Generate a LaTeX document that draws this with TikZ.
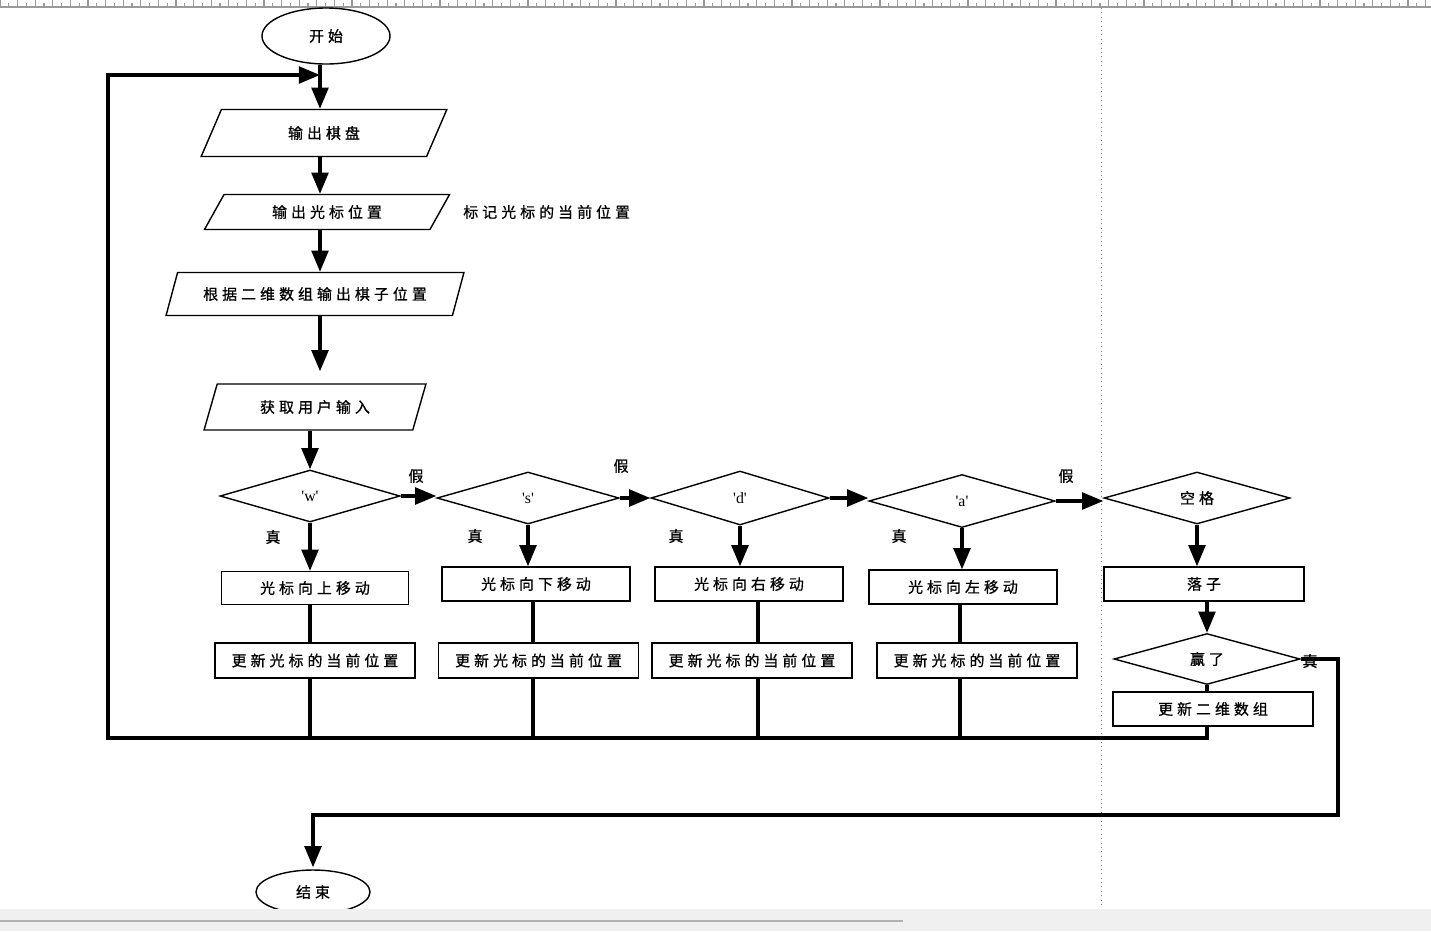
\documentclass[tikz,border=0pt]{standalone}
\usepackage{fontspec}
\setmainfont{Liberation Serif}
\newfontfamily\cjkf[LetterSpace=27,FakeBold=0.8]{Noto Sans CJK SC}
\newfontfamily\latf{Liberation Serif}
\usetikzlibrary{shapes.geometric,arrows.meta}
\begin{document}
\begin{tikzpicture}[x=0.02cm,y=-0.02cm,
  base/.style={draw=black, line width=0.8pt, inner sep=0pt, font=\cjkf\fontsize{8.5}{10}\selectfont},
  para/.style={base, trapezium, trapezium stretches=true},
  box/.style={base, rectangle},
  dec/.style={base, diamond},
  term/.style={base, ellipse},
  key/.style={font=\latf\fontsize{9}{10}\selectfont},
  conn/.style={line width=1.8pt},
  arr/.style={conn, -{Triangle[length=12pt,width=9.5pt]}},
  lab/.style={inner sep=0pt, font=\cjkf\fontsize{8.5}{10}\selectfont}
]
\useasboundingbox (0,0) rectangle (1431,931);
\fill[white] (0,0) rectangle (1431,931);

% ruler and page guides
\draw[gray!80, line width=0.7pt] (0,7) -- (1431,7);
\foreach \i in {0,...,81} {
  \draw[gray!80, line width=0.6pt] ({\i*17.6},0) -- ({\i*17.6},7);
  \draw[gray!80, line width=0.6pt] ({\i*17.6+8.8},3) -- ({\i*17.6+8.8},7);
}
\draw[gray, dotted, line width=0.5pt] (1101,8) -- (1101,908);

% terminals and input/output
\node[term, minimum width=128*0.02cm, minimum height=56*0.02cm] (start) at (326,36) {开始};
\node[para, trapezium left angle=63, trapezium right angle=117,
      minimum width=246*0.02cm, minimum height=47*0.02cm] (p1) at (324,133) {输出棋盘};
\node[para, trapezium left angle=53, trapezium right angle=127,
      minimum width=246*0.02cm, minimum height=35*0.02cm] (p2) at (327,212) {输出光标位置};
\node[lab, anchor=west] (note) at (463,212) {标记光标的当前位置};
\node[para, trapezium left angle=56, trapezium right angle=124,
      minimum width=298*0.02cm, minimum height=43*0.02cm] (p3) at (315,294) {根据二维数组输出棋子位置};
\node[para, trapezium left angle=62, trapezium right angle=118,
      minimum width=222*0.02cm, minimum height=46*0.02cm] (p4) at (315,407) {获取用户输入};

% decisions
\node[dec, key, minimum width=180*0.02cm, minimum height=52*0.02cm] (w) at (310,496) {'w'};
\node[dec, key, minimum width=182*0.02cm, minimum height=52*0.02cm] (s) at (528,498) {'s'};
\node[dec, key, minimum width=178*0.02cm, minimum height=54*0.02cm] (d) at (740,498) {'d'};
\node[dec, key, minimum width=186*0.02cm, minimum height=53*0.02cm] (a) at (962,501) {'a'};
\node[dec, minimum width=186*0.02cm, minimum height=52*0.02cm] (sp) at (1197,498) {空格};

% move boxes
\node[box, minimum width=187*0.02cm, minimum height=33*0.02cm] (bw) at (315,588) {光标向上移动};
\node[box, minimum width=188*0.02cm, minimum height=34*0.02cm] (bs) at (536,584) {光标向下移动};
\node[box, minimum width=188*0.02cm, minimum height=34*0.02cm] (bd) at (749,584) {光标向右移动};
\node[box, minimum width=188*0.02cm, minimum height=34*0.02cm] (ba) at (963,587) {光标向左移动};
\node[box, minimum width=200*0.02cm, minimum height=34*0.02cm] (luo) at (1204,584) {落子};

% update boxes
\node[box, minimum width=200*0.02cm, minimum height=35*0.02cm] (uw) at (315,660.5) {更新光标的当前位置};
\node[box, minimum width=200*0.02cm, minimum height=35*0.02cm] (us) at (538.5,660.5) {更新光标的当前位置};
\node[box, minimum width=200*0.02cm, minimum height=35*0.02cm] (ud) at (752,660.5) {更新光标的当前位置};
\node[box, minimum width=200*0.02cm, minimum height=35*0.02cm] (ua) at (977,660.5) {更新光标的当前位置};

\node[dec, minimum width=186*0.02cm, minimum height=51*0.02cm] (win) at (1207,659) {赢了};
\node[box, minimum width=200*0.02cm, minimum height=34*0.02cm] (u2) at (1213,709) {更新二维数组};

\node[term, minimum width=114*0.02cm, minimum height=44*0.02cm] (stop) at (313,892) {结束};

% helper coordinates
\coordinate (col) at (320,0);
\coordinate (loopT) at (320,75);
\coordinate (busL) at (108,738);
\coordinate (rc) at (1338,815);
\coordinate (cw) at (310,738);
\coordinate (cs) at (533,738);
\coordinate (cd) at (758,738);
\coordinate (ca) at (960,738);

% main column
\draw[arr] (start.south -| col) -- (p1.north -| col);
\draw[arr] (p1.south -| col) -- (p2.north -| col);
\draw[arr] (p2.south -| col) -- (p3.north -| col);
\draw[arr, shorten >=12*0.02cm] (p3.south -| col) -- (p4.north -| col);
\draw[arr] (p4.south -| w.north) -- (w.north);

% false chain
\draw[arr] (w.east) -- (w.east -| s.west);
\draw[arr] (s.east) -- (s.east -| d.west);
\draw[arr] (d.east) -- (d.east -| a.west);
\draw[arr] (a.east) -- (a.east -| sp.west);
\node[lab] (f1) at (416,476) {假};
\node[lab] (f2) at (621,466) {假};
\node[lab] (f3) at (1066,476) {假};

% true branches
\draw[arr] (w.south) -- (w.south |- bw.north);
\draw[arr] (s.south) -- (s.south |- bs.north);
\draw[arr] (d.south) -- (d.south |- bd.north);
\draw[arr] (a.south) -- (a.south |- ba.north);
\draw[arr] (sp.south) -- (sp.south |- luo.north);
\node[lab] (t1) at (273,537) {真};
\node[lab] (t2) at (475,536) {真};
\node[lab] (t3) at (676,536) {真};
\node[lab] (t4) at (899,536) {真};

\draw[conn] (bw.south -| cw) -- (uw.north -| cw);
\draw[conn] (bs.south -| cs) -- (us.north -| cs);
\draw[conn] (bd.south -| cd) -- (ud.north -| cd);
\draw[conn] (ba.south -| ca) -- (ua.north -| ca);

\draw[conn] (uw.south -| cw) -- (cw);
\draw[conn] (us.south -| cs) -- (cs);
\draw[conn] (ud.south -| cd) -- (cd);
\draw[conn] (ua.south -| ca) -- (ca);

% drop branch
\draw[arr] (luo.south -| win.north) -- (win.north);
\draw[conn] (win.south) -- (win.south |- u2.north);
\draw[arr] (u2.south -| win.south) |- (busL) |- (loopT);

% win -> end
\node[lab] (t5) at (1310,661) {真};
\draw[arr, shorten >=2*0.02cm] (win.east) -| (rc) -| (stop.north);

% bottom scroll bar
\fill[gray!12] (0,909) rectangle (1431,931);
\draw[gray!60, line width=1.2pt] (0,921) -- (903,921);
\end{tikzpicture}
\end{document}
